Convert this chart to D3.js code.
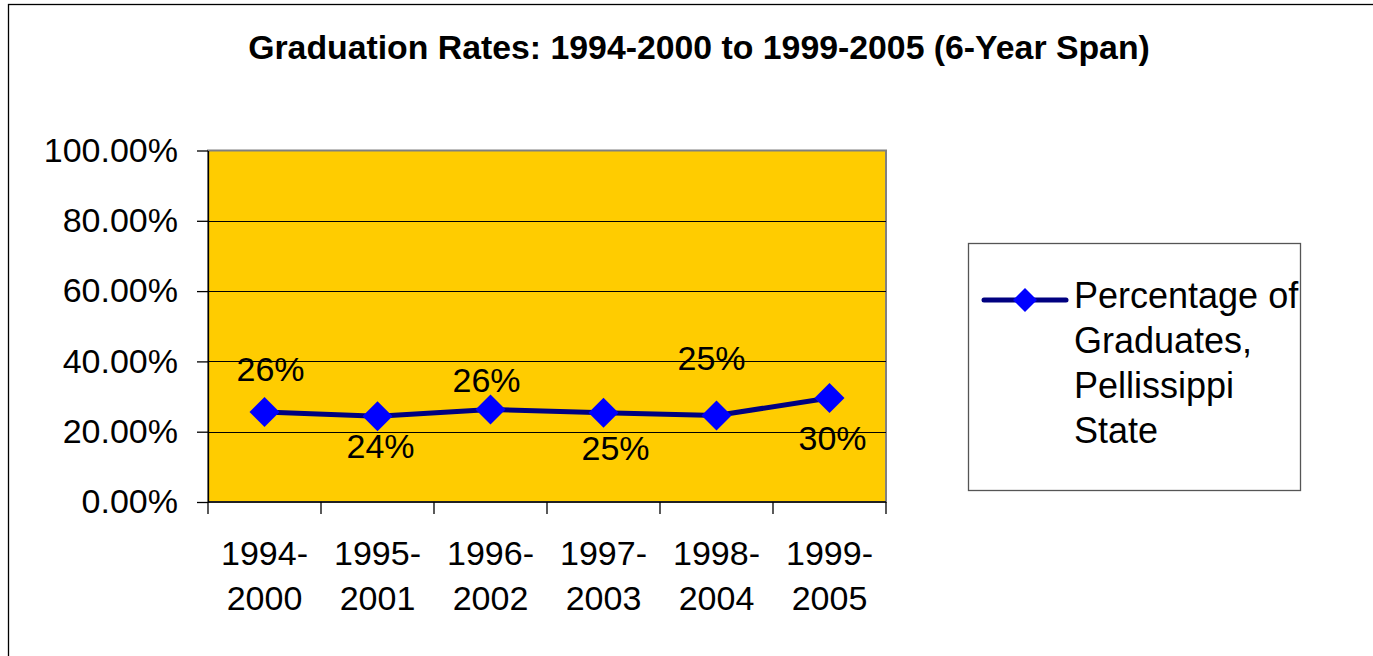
<!DOCTYPE html>
<html>
<head>
<meta charset="utf-8">
<script src="https://cdn.jsdelivr.net/npm/d3@7"></script>
<style>
  body { margin: 0; background: #fff; }
  svg { display: block; font-family: "Liberation Sans", Arial, sans-serif; }
</style>
</head>
<body>
<div id="chart"></div>
<script>
// dati
var chartTitle = "Graduation Rates: 1994-2000 to 1999-2005 (6-Year Span)";
var categories = ["1994-2000", "1995-2001", "1996-2002", "1997-2003", "1998-2004", "1999-2005"];
var rates = [0.256, 0.244, 0.263, 0.254, 0.246, 0.296];
var yTicks = [0, 0.2, 0.4, 0.6, 0.8, 1];
var legendLines = ["Percentage of", "Graduates,", "Pellissippi", "State"];

var width = 1373, height = 656;
var plot = { left: 208, top: 150.5, right: 886, bottom: 502 };

// spostamento delle etichette dati (come le mette Excel)
var labelShift = [[6, -31], [3, 42], [-4, -18], [12, 47], [-5, -46], [3, 52]];

var svg = d3.select("#chart").append("svg")
  .attr("width", width)
  .attr("height", height);

svg.append("rect")
  .attr("width", width).attr("height", height)
  .attr("fill", "#fff");

/* cornice esterna */
svg.append("rect")
  .attr("x", 8.5).attr("y", 4.5)
  .attr("width", 1400).attr("height", 700)
  .attr("fill", "none")
  .attr("stroke", "#000")
  .attr("stroke-width", 1.3);

/* titolo */
svg.append("text")
  .attr("x", 699).attr("y", 59)
  .attr("text-anchor", "middle")
  .style("font-weight", "bold")
  .style("font-size", "33.8px")
  .text(chartTitle);

var x = d3.scaleBand()
  .domain(categories)
  .range([plot.left, plot.right])
  .paddingInner(0).paddingOuter(0);

var y = d3.scaleLinear()
  .domain([0, 1])
  .range([plot.bottom, plot.top]);

/* area del grafico */
svg.append("rect")
  .attr("x", plot.left).attr("y", plot.top)
  .attr("width", plot.right - plot.left)
  .attr("height", plot.bottom - plot.top)
  .attr("fill", "#FFCC00")
  .attr("stroke", "#808080")
  .attr("stroke-width", 2);

/* griglia */
svg.append("g")
  .selectAll("line")
  .data(yTicks.filter(function(d) { return d > 0 && d < 1; }))
  .enter().append("line")
  .attr("x1", plot.left).attr("x2", plot.right)
  .attr("y1", function(d) { return Math.round(y(d)) + 0.5; })
  .attr("y2", function(d) { return Math.round(y(d)) + 0.5; })
  .attr("stroke", "#000")
  .attr("stroke-width", 1);

/* asse y */
var yAxis = svg.append("g")
  .attr("transform", "translate(" + plot.left + ",0)")
  .call(d3.axisLeft(y)
    .tickValues(yTicks)
    .tickFormat(d3.format(".2%"))
    .tickSize(11)
    .tickSizeOuter(0)
    .tickPadding(19));
yAxis.select(".domain").attr("stroke", "#000").attr("stroke-width", 1.3);
yAxis.selectAll(".tick line").attr("stroke", "#000").attr("stroke-width", 1.3);
yAxis.selectAll("text")
  .attr("fill", "#000")
  .style("font-size", "34px")
  .style("font-family", "Liberation Sans, Arial, sans-serif");

/* asse x */
svg.append("line")
  .attr("x1", plot.left).attr("x2", plot.right)
  .attr("y1", plot.bottom).attr("y2", plot.bottom)
  .attr("stroke", "#000").attr("stroke-width", 1.3);

var xAxis = svg.append("g")
  .attr("transform", "translate(0," + plot.bottom + ")")
  .call(d3.axisBottom(x).tickSize(0).tickPadding(0));
xAxis.select(".domain").remove();
xAxis.selectAll("text").remove();

// tacche ai bordi delle categorie
svg.append("g")
  .selectAll("line")
  .data(d3.range(categories.length + 1))
  .enter().append("line")
  .attr("x1", function(i) { return plot.left + i * x.bandwidth(); })
  .attr("x2", function(i) { return plot.left + i * x.bandwidth(); })
  .attr("y1", plot.bottom)
  .attr("y2", plot.bottom + 12)
  .attr("stroke", "#000")
  .attr("stroke-width", 1.3);

var catLabel = svg.append("g")
  .selectAll("text")
  .data(categories)
  .enter().append("text")
  .attr("text-anchor", "middle")
  .style("font-size", "34px")
  .attr("x", function(d) { return x(d) + x.bandwidth() / 2; })
  .attr("y", 565);
catLabel.append("tspan")
  .attr("x", function(d) { return x(d) + x.bandwidth() / 2; })
  .text(function(d) { return d.split("-")[0] + "-"; });
catLabel.append("tspan")
  .attr("x", function(d) { return x(d) + x.bandwidth() / 2; })
  .attr("dy", 45)
  .text(function(d) { return d.split("-")[1]; });

/* linea */
var cx = function(d, i) { return x(categories[i]) + x.bandwidth() / 2; };

var line = d3.line()
  .x(function(d, i) { return cx(d, i); })
  .y(function(d) { return y(d); });

svg.append("path")
  .datum(rates)
  .attr("d", line)
  .attr("fill", "none")
  .attr("stroke", "#000080")
  .attr("stroke-width", 5)
  .attr("stroke-linejoin", "round");

var diamond = function(r) {
  return "M0," + (-r) + "L" + r + ",0L0," + r + "L" + (-r) + ",0Z";
};

svg.append("g")
  .selectAll("path")
  .data(rates)
  .enter().append("path")
  .attr("transform", function(d, i) { return "translate(" + cx(d, i) + "," + y(d) + ")"; })
  .attr("d", diamond(15))
  .attr("fill", "#0000FF");

/* etichette dati */
svg.append("g")
  .selectAll("text")
  .data(rates)
  .enter().append("text")
  .attr("text-anchor", "middle")
  .style("font-size", "34px")
  .attr("x", function(d, i) { return cx(d, i) + labelShift[i][0]; })
  .attr("y", function(d, i) { return y(d) + labelShift[i][1]; })
  .text(function(d) { return d3.format(".0%")(d); });

/* legenda */
var legend = svg.append("g");
legend.append("rect")
  .attr("x", 968.5).attr("y", 243.5)
  .attr("width", 332).attr("height", 247)
  .attr("fill", "#fff")
  .attr("stroke", "#555")
  .attr("stroke-width", 1.3);
legend.append("line")
  .attr("x1", 984).attr("x2", 1066)
  .attr("y1", 300).attr("y2", 300)
  .attr("stroke", "#000080")
  .attr("stroke-width", 5)
  .attr("stroke-linecap", "round");
legend.append("path")
  .attr("transform", "translate(1025,300)")
  .attr("d", diamond(12))
  .attr("fill", "#0000FF");
legend.selectAll("text.leg")
  .data(legendLines)
  .enter().append("text")
  .attr("class", "leg")
  .attr("x", 1074)
  .attr("y", function(d, i) { return 308 + i * 45; })
  .style("font-size", "36px")
  .text(function(d) { return d; });
</script>
</body>
</html>
